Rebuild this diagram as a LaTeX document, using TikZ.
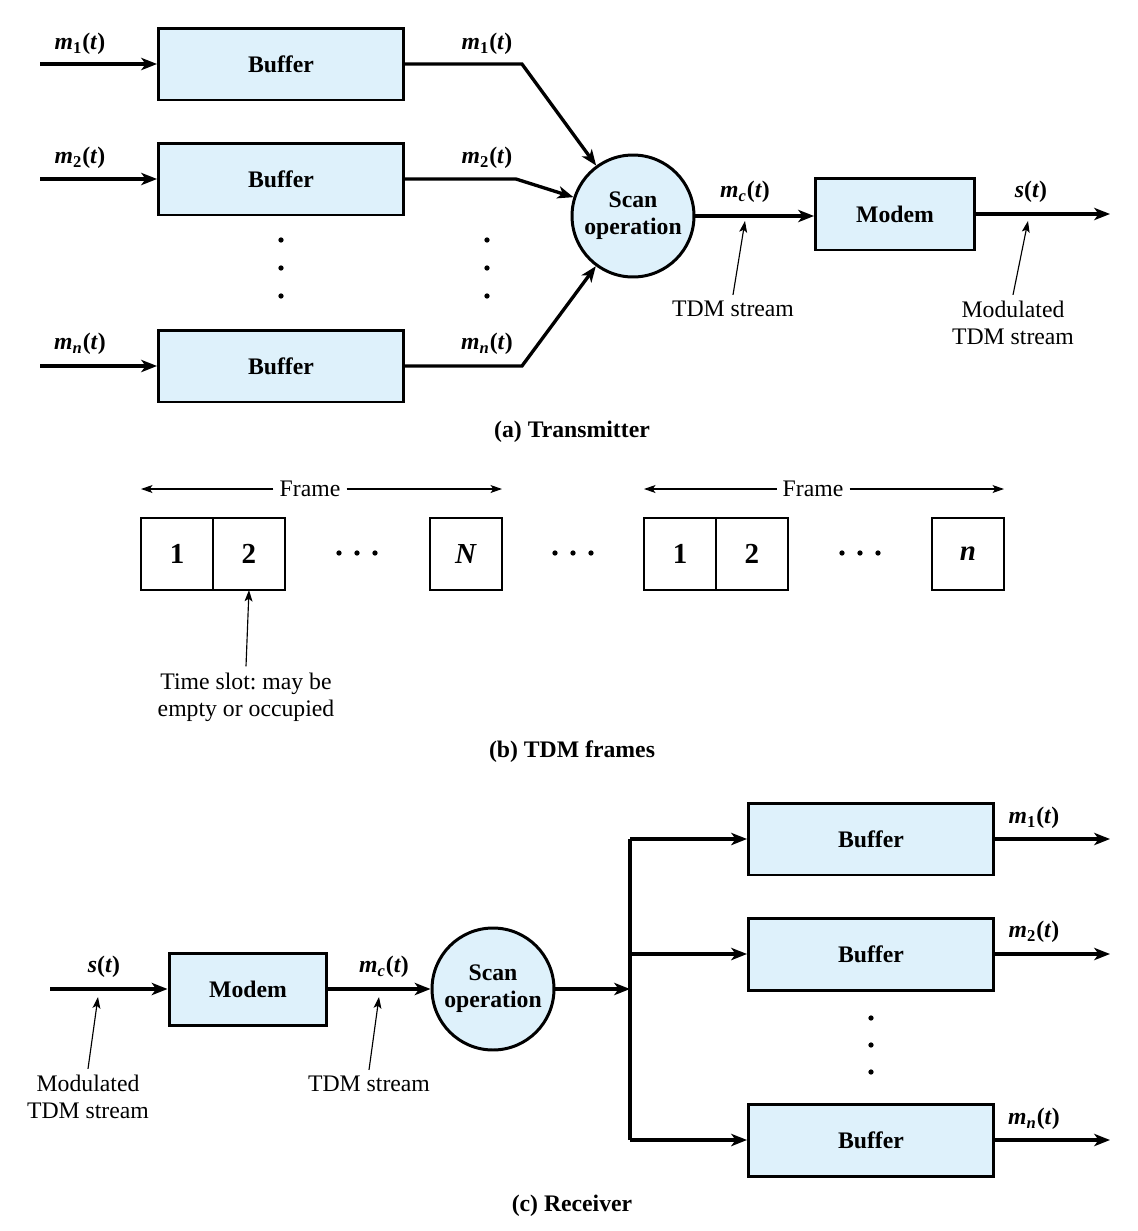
\documentclass[tikz,border=0pt]{standalone}
\usepackage{fontspec}
\setmainfont{Liberation Serif}
\frenchspacing
\usetikzlibrary{arrows.meta, positioning, calc}
\definecolor{bufblue}{RGB}{222, 241, 251}
\newcommand{\sigl}[2]{\textbf{\textit{#1}\textsubscript{#2}(\textit{t})}}
\tikzset{
    % Buffer / modem block
    procblock/.style={
        draw=black, line width=1.7pt,
        fill=bufblue,
        minimum width=#1,
        minimum height=1.44cm,
        font=\fontsize{13.5}{16}\selectfont\bfseries,
        inner sep=2pt,
    },
    % Scan operation circle
    scanblock/.style={
        draw=black, line width=1.7pt,
        circle,
        fill=bufblue,
        minimum size=2.44cm,
        inner sep=0pt,
        align=center,
        font=\fontsize{13.5}{15.5}\selectfont\bfseries,
    },
    % Time slot box
    slotbox/.style={
        draw=black, line width=0.9pt,
        minimum width=1.44cm,
        minimum height=1.44cm,
        outer sep=0pt,
        font=\fontsize{16.5}{18}\selectfont\bfseries,
    },
    % Signal line
    sigline/.style={
        line width=1.9pt,
        line join=miter,
    },
    % Signal arrow
    sigarrow/.style={
        -{Stealth[length=9pt, width=7pt, inset=2.5pt]},
        line width=1.9pt,
        line join=miter,
    },
    % Thin arrow for notes
    notearrow/.style={
        -{Stealth[length=6.5pt, width=4.5pt, inset=1.5pt]},
        line width=0.65pt,
    },
    % Frame extent arrow
    framearrow/.style={
        -{Stealth[length=6.5pt, width=4.5pt, inset=1.5pt]},
        line width=0.65pt,
    },
    % Signal label
    siglabel/.style={
        font=\fontsize{13.5}{16}\selectfont,
        inner sep=1pt,
    },
    % Note text
    notelabel/.style={
        font=\fontsize{13.5}{15.5}\selectfont,
        align=center,
    },
    % Caption text
    caption/.style={
        font=\fontsize{13.5}{16}\selectfont\bfseries,
    },
}

\begin{document}
\begin{tikzpicture}[x=0.02cm, y=-0.02cm]

\useasboundingbox (0,0) rectangle (1138,1231);

% =========================================================================
% (a) TRANSMITTER
% =========================================================================

% --- Buffers ---
\node[procblock=4.9cm] (tbuf1) at (281,64) {Buffer};
\node[procblock=4.9cm] (tbuf2) at (281,179) {Buffer};
\node[procblock=4.9cm] (tbufn) at (281,366) {Buffer};

% --- Scan and modem ---
\node[scanblock] (tscan) at (633,216) {Scan\\operation};
\node[procblock=3.18cm] (tmodem) at (895,214) {Modem};

% --- Free ends ---
\coordinate (tin1) at (40,64);
\coordinate (tin2) at (40,179);
\coordinate (tinn) at (40,366);
\coordinate (tout) at (1110,214);
\coordinate (ttdmtip) at (745,221);
\coordinate (tmodtip) at (1028,221);

% --- Inputs ---
\draw[sigarrow] (tin1) -- (tbuf1);
\draw[sigarrow] (tin2) -- (tbuf2);
\draw[sigarrow] (tinn) -- (tbufn);
\node[siglabel] at (80,44) {\sigl{m}{1}};
\node[siglabel] at (80,158) {\sigl{m}{2}};
\node[siglabel] at (80,344) {\sigl{m}{\textit{n}}};

% --- Buffers to scan ---
\draw[sigarrow] (tbuf1.east) -- ++(117,0) -- (tscan);
\draw[sigarrow] (tbuf2.east) -- ++(111,0) -- (tscan);
\draw[sigarrow] (tbufn.east) -- ++(117,0) -- (tscan);
\node[siglabel] at (487,44) {\sigl{m}{1}};
\node[siglabel] at (487,158) {\sigl{m}{2}};
\node[siglabel] at (487,344) {\sigl{m}{\textit{n}}};

% --- Vertical dots ---
\fill (281,240) circle (1.5pt) (281,268) circle (1.5pt) (281,296) circle (1.5pt);
\fill (487,240) circle (1.5pt) (487,268) circle (1.5pt) (487,296) circle (1.5pt);

% --- Scan to modem to output ---
\draw[sigarrow] (tscan.east) -- (tmodem.west |- tscan.east);
\draw[sigarrow] (tmodem) -- (tout);
\node[siglabel] at (745,192) {\textbf{\textit{m}\textsubscript{\textit{c}}(\textit{t})}};
\node[siglabel] at (1031,192) {\textbf{\textit{s}(\textit{t})}};

% --- Notes ---
\node[notelabel] (ttdm) at (733,309) {TDM stream};
\draw[notearrow] (ttdm.north) -- (ttdmtip);
\node[notelabel] (tmod) at (1013,323) {Modulated\\TDM stream};
\draw[notearrow] (tmod.north) -- (tmodtip);

\node[caption] at (572,432) {(a) Transmitter};

% =========================================================================
% (b) TDM FRAMES
% =========================================================================

% --- First frame ---
\node[slotbox] (fa1) at (177,554) {1};
\node[slotbox, right=0pt of fa1] (fa2) {2};
\node[slotbox] (faN) at (466,554) {\textit{N}};

% --- Second frame ---
\node[slotbox] (fb1) at (680,554) {1};
\node[slotbox, right=0pt of fb1] (fb2) {2};
\node[slotbox] (fbn) at (968,554) {\textit{n}};

% --- Horizontal dots ---
\foreach \dx in {-18,0,18} {
    \fill (357+\dx,553) circle (1.5pt);
    \fill (573+\dx,553) circle (1.5pt);
    \fill (860+\dx,553) circle (1.5pt);
}

% --- Frame extents ---
\node[notelabel] (fra) at (310,489) {Frame};
\draw[framearrow] (fra) -- (fa1.west |- fra);
\draw[framearrow] (fra) -- (faN.east |- fra);
\node[notelabel] (frb) at (813,489) {Frame};
\draw[framearrow] (frb) -- (fb1.west |- frb);
\draw[framearrow] (frb) -- (fbn.east |- frb);

% --- Time slot note ---
\node[notelabel] (slotnote) at (246,697) {Time slot: may be\\empty or occupied};
\draw[notearrow] (slotnote.north) -- (fa2.south);

\node[caption] at (572,752) {(b) TDM frames};

% =========================================================================
% (c) RECEIVER
% =========================================================================

% --- Modem and scan ---
\node[procblock=3.16cm] (rmodem) at (248,989) {Modem};
\node[scanblock] (rscan) at (493,989) {Scan\\operation};

% --- Buffers ---
\node[procblock=4.9cm] (rbuf1) at (871,839) {Buffer};
\node[procblock=4.9cm] (rbuf2) at (871,954) {Buffer};
\node[procblock=4.9cm] (rbufn) at (871,1140) {Buffer};

% --- Free ends ---
\coordinate (rin) at (50,989);
\coordinate (bus) at (630,989);
\coordinate (bustop) at (630,839);
\coordinate (busbot) at (630,1140);
\coordinate (rout1) at (1110,839);
\coordinate (rout2) at (1110,954);
\coordinate (routn) at (1110,1140);
\coordinate (rmodtip) at (98,997);
\coordinate (rtdmtip) at (379,997);

% --- Input chain ---
\draw[sigarrow] (rin) -- (rmodem);
\draw[sigarrow] (rmodem) -- (rscan);
\draw[sigarrow] (rscan) -- (bus);
\node[siglabel] at (104,967) {\textbf{\textit{s}(\textit{t})}};
\node[siglabel] at (384,967) {\textbf{\textit{m}\textsubscript{\textit{c}}(\textit{t})}};

% --- Distribution bus ---
\draw[sigline] (bustop) -- (busbot);
\draw[sigarrow] (bustop) -- (rbuf1);
\draw[sigarrow] (bustop |- rbuf2) -- (rbuf2);
\draw[sigarrow] (busbot) -- (rbufn);

% --- Outputs ---
\draw[sigarrow] (rbuf1) -- (rout1);
\draw[sigarrow] (rbuf2) -- (rout2);
\draw[sigarrow] (rbufn) -- (routn);
\node[siglabel] at (1034,818) {\sigl{m}{1}};
\node[siglabel] at (1034,932) {\sigl{m}{2}};
\node[siglabel] at (1034,1119) {\sigl{m}{\textit{n}}};

% --- Vertical dots ---
\fill (871,1018) circle (1.5pt) (871,1045) circle (1.5pt) (871,1072) circle (1.5pt);

% --- Notes ---
\node[notelabel] (rmod) at (88,1097) {Modulated\\TDM stream};
\draw[notearrow] (rmod.north) -- (rmodtip);
\node[notelabel] (rtdm) at (369,1084) {TDM stream};
\draw[notearrow] (rtdm.north) -- (rtdmtip);

\node[caption] at (572,1206) {(c) Receiver};

\end{tikzpicture}
\end{document}
